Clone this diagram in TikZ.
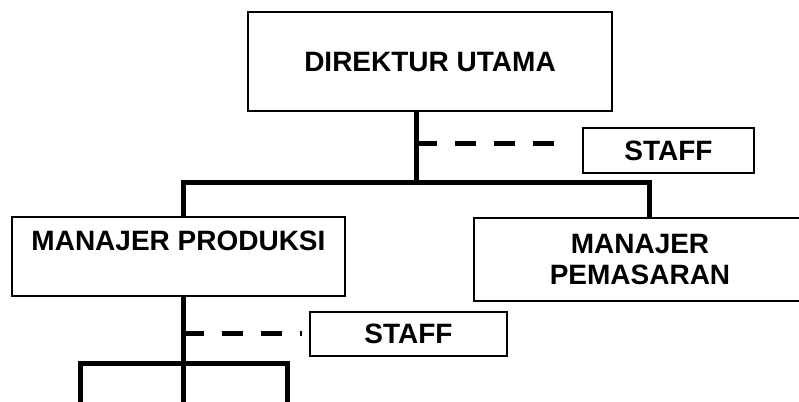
\documentclass[tikz,border=0pt]{standalone}
\usepackage{fontspec}
\setmainfont{Liberation Sans}
\begin{document}
\begin{tikzpicture}[x=0.75pt, y=-0.75pt, line join=miter,
		font=\bfseries\fontsize{21}{23.25}\selectfont,
		box/.style={draw, line width=2pt, inner sep=0pt, align=center},
		link/.style={line width=3.75pt},
		aide/.style={line width=3.75pt, dash pattern=on 15.75pt off 13.5pt}]
		\useasboundingbox (0,0) rectangle (799,401);
		\clip (0,0) rectangle (799,401);
		\node[box, minimum width=273pt, minimum height=74.25pt] (dir) at (430,61.5) {DIREKTUR UTAMA};
		\node[box, minimum width=128.25pt, minimum height=33.75pt] (staffA) at (668.5,150.5) {STAFF};
		\node[box, minimum width=249.75pt, minimum height=59.25pt] (prod) at (178.5,256.5) {MANAJER PRODUKSI\\~};
		\node[box, minimum width=249pt, minimum height=62.25pt] (pem) at (640,259.5) {MANAJER\\PEMASARAN};
		\node[box, minimum width=147.75pt, minimum height=33pt] (staffB) at (408.5,334) {STAFF};
		\path
			(416,182) coordinate (J1)
			(183,182) coordinate (L1)
			(649,182) coordinate (R1)
			(416,143) coordinate (S1)
			(555,143) coordinate (E1)
			(183,333) coordinate (S2)
			(302,333) coordinate (E2)
			(183,363) coordinate (J2)
			(80,363) coordinate (L2)
			(287,363) coordinate (R2);
		\foreach \d in {J2, L2, R2}
			\path (\d)+(0,45) coordinate (\d b);
		\draw[link] (dir.south -| J1) -- (J1);
		\draw[link] (L1 |- prod.north) -- (L1) -- (R1) -- (R1 |- pem.north);
		\draw[aide] (S1) -- (E1);
		\draw[link] (prod.south -| J2) -- (J2b);
		\draw[link] (L2b) -- (L2) -- (R2) -- (R2b);
		\draw[aide] (S2) -- (E2);
		\end{tikzpicture}
\end{document}
